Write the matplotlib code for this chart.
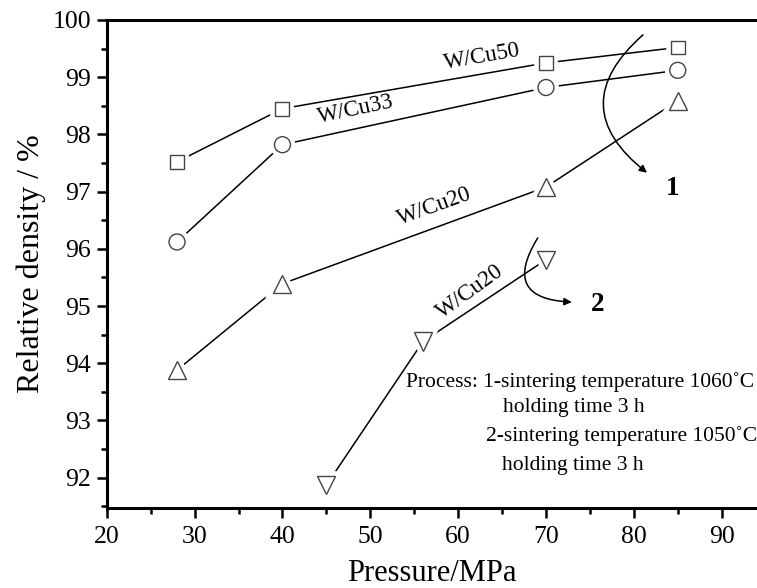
import matplotlib
matplotlib.use("Agg")
import matplotlib.pyplot as plt
import matplotlib.patheffects as pe
from matplotlib.patches import FancyArrowPatch
from matplotlib.ticker import MultipleLocator

plt.rcParams['font.family'] = ['Liberation Serif', 'DejaVu Serif']

# Data (pressure in MPa, relative density in %)
pressure_1 = [28, 40, 70, 85]
cu50 = [97.52, 98.45, 99.25, 99.52]
cu33 = [96.12, 97.82, 98.82, 99.12]
cu20 = [93.88, 95.39, 97.08, 98.59]

pressure_2 = [45, 56, 70]
cu20_b = [91.87, 94.38, 95.81]

series = [
    (pressure_1, cu50, 's', 10),
    (pressure_1, cu33, 'o', 11.5),
    (pressure_1, cu20, '^', 13),
    (pressure_2, cu20_b, 'v', 13),
]

fig = plt.figure(figsize=(7.57, 5.88), dpi=100)
ax = fig.add_axes([0.141, 0.1366, 0.859, 0.8294])

# white stroke around the markers leaves a small gap before the lines
gap = [pe.Stroke(linewidth=7, foreground='white'), pe.Normal()]
for x, y, marker, size in series:
    ax.plot(x, y, color='black', lw=1.1, zorder=2)
    ax.plot(x, y, ls='none', marker=marker, ms=size, mfc='white',
            mec='#444444', mew=1.0, zorder=3, path_effects=gap)

ax.set_xlim(20, 94.02)
ax.set_ylim(91.475, 100)
ax.xaxis.set_major_locator(MultipleLocator(10))
ax.xaxis.set_minor_locator(MultipleLocator(5))
ax.yaxis.set_major_locator(MultipleLocator(1))
ax.yaxis.set_minor_locator(MultipleLocator(0.5))

ax.spines['right'].set_visible(False)
for side in ['left', 'bottom', 'top']:
    ax.spines[side].set_linewidth(2.2)
ax.tick_params(which='both', direction='out', width=1.8, top=False, right=False)
ax.tick_params(which='major', length=7.2, labelsize=18.5)
ax.tick_params(which='minor', length=4.3)
ax.tick_params(axis='x', which='major', pad=6)
ax.tick_params(axis='y', which='major', pad=4)

ax.set_xlabel('Pressure/MPa', fontsize=22, labelpad=8)
ax.set_ylabel('Relative density / %', fontsize=23, labelpad=5)

# Series labels along the lines
ax.text(62.7, 99.36, 'W/Cu50', fontsize=16.5, rotation=10, ha='center', va='center')
ax.text(48.3, 98.43, 'W/Cu33', fontsize=16.5, rotation=12, ha='center', va='center')
ax.text(57.3, 96.74, 'W/Cu20', fontsize=16.5, rotation=20, ha='center', va='center')
ax.text(61.35, 95.25, 'W/Cu20', fontsize=16.5, rotation=36, ha='center', va='center')

# Curved arrows pointing to the process numbers
ax.add_patch(FancyArrowPatch((81.04, 99.74), (81.5, 97.33), connectionstyle='arc3,rad=0.6',
                             arrowstyle='-|>', mutation_scale=11, lw=1.1, color='black',
                             shrinkA=0, shrinkB=0, zorder=4))
ax.add_patch(FancyArrowPatch((69.06, 96.19), (72.93, 95.07), connectionstyle='arc3,rad=0.85',
                             arrowstyle='-|>', mutation_scale=11, lw=1.1, color='black',
                             shrinkA=0, shrinkB=0, zorder=4))
ax.text(84.46, 97.06, '1', fontsize=19.5, fontweight='bold', ha='center', va='center')
ax.text(75.92, 95.02, '2', fontsize=19.5, fontweight='bold', ha='center', va='center')

# Process notes
ax.text(54.07, 93.67, 'Process: 1-sintering temperature 1060\u02daC', fontsize=15.5, va='center')
ax.text(65.1, 93.22, 'holding time 3 h', fontsize=15.5, va='center')
ax.text(63.17, 92.72, '2-sintering temperature 1050\u02daC', fontsize=15.5, va='center')
ax.text(64.96, 92.22, 'holding time 3 h', fontsize=15.5, va='center')

fig.savefig('out.png', dpi=100)
